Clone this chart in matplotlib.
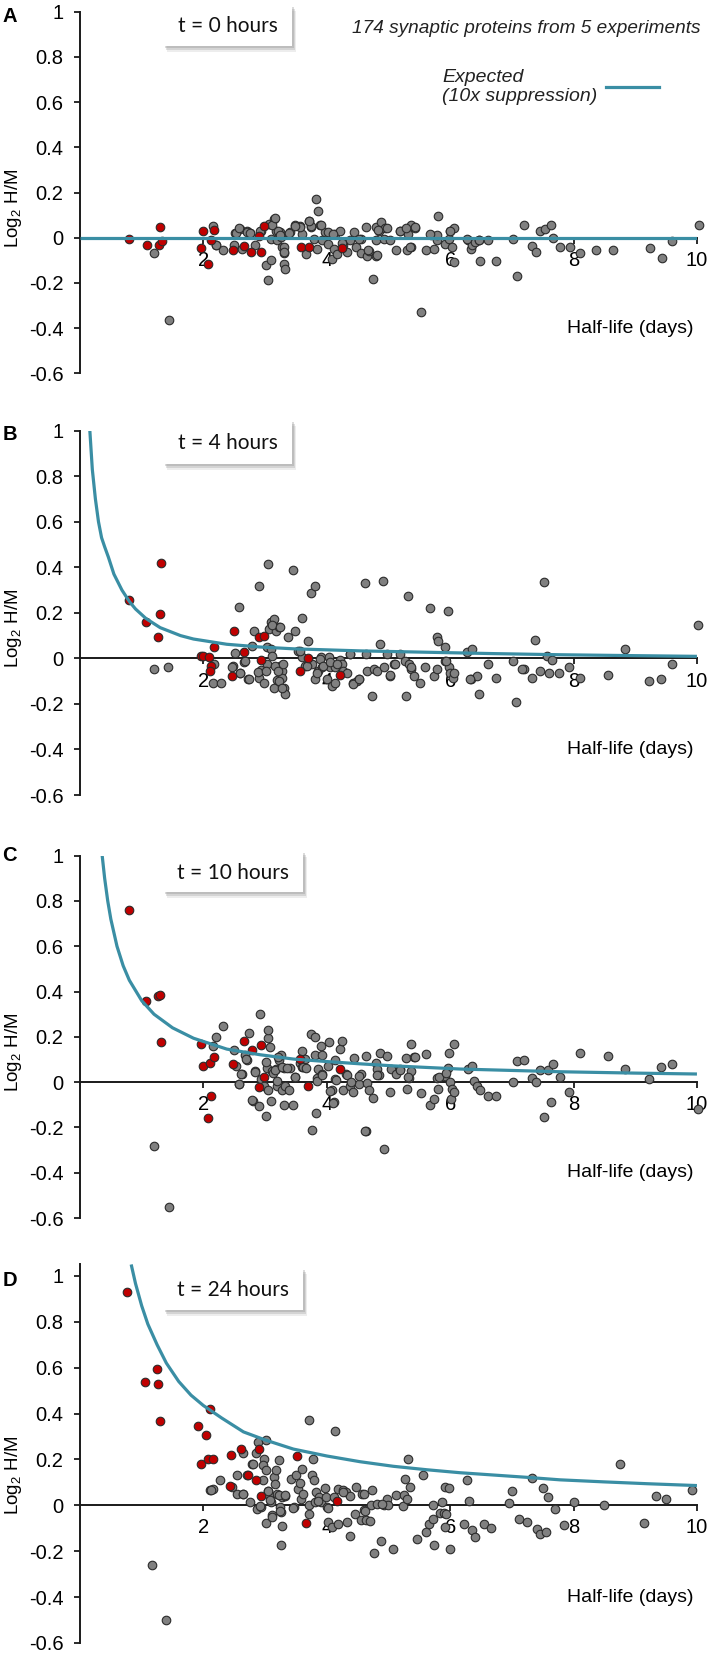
import matplotlib
matplotlib.use('Agg')
import matplotlib.pyplot as plt
from matplotlib.patches import Rectangle
from matplotlib.lines import Line2D
from matplotlib import transforms

plt.rcParams['font.family'] = ['Liberation Sans', 'DejaVu Sans']
plt.rcParams['mathtext.default'] = 'regular'

# ---- data: (half-life in days, log2 H/M) ----
a_grey = [(1.20, -0.068), (1.44, -0.363), (2.16, 0.05), (2.21, -0.031), (2.32, -0.056), (2.51, 0.022),
          (2.59, 0.04), (2.49, -0.034), (2.70, 0.028), (2.75, 0.022), (2.62, -0.049), (2.83, -0.034),
          (2.93, 0.032), (3.01, -0.122), (3.05, -0.186), (3.10, -0.1), (3.06, 0.062), (3.15, 0.084),
          (3.10, -0.004), (3.17, 0.032), (3.20, -0.012), (3.25, 0.025), (3.28, -0.041), (3.30, -0.066),
          (3.30, -0.115), (3.32, -0.137), (3.26, 0.003), (3.40, 0.025), (3.48, 0.055), (3.56, 0.05),
          (3.60, 0.018), (3.67, -0.071), (3.71, 0.072), (3.75, 0.047), (3.82, 0.173), (3.86, 0.117),
          (3.89, 0.058), (3.84, -0.049), (3.80, -0.004), (3.92, -0.012), (3.97, 0.025), (4.02, -0.027),
          (4.08, -0.093), (4.13, 0.018), (4.11, -0.049), (4.16, -0.071), (4.21, 0.028), (4.27, -0.034),
          (4.33, -0.063), (4.38, -0.012), (4.44, 0.025), (4.48, -0.041), (4.55, -0.004), (4.63, 0.047),
          (4.55, -0.066), (4.66, -0.081), (4.69, -0.059), (4.75, -0.181), (4.80, -0.083), (4.79, -0.012),
          (4.79, 0.047), (4.88, 0.069), (4.85, 0.032), (4.95, 0.043), (4.92, -0.004), (5.02, -0.009),
          (5.13, -0.053), (5.19, 0.032), (5.30, 0.04), (5.30, -0.053), (5.37, 0.055), (5.43, 0.043),
          (5.36, -0.041), (5.32, 0.018), (5.52, -0.329), (5.61, -0.053), (5.69, 0.013), (5.73, -0.049),
          (5.79, -0.012), (5.79, 0.01), (5.81, 0.094), (5.92, -0.027), (5.98, -0.007), (6.00, 0.032),
          (6.06, 0.043), (6.03, -0.041), (6.07, -0.108), (6.29, -0.009), (6.33, -0.049), (6.36, -0.031),
          (6.40, -0.019), (6.46, -0.012), (6.49, -0.105), (6.62, -0.012), (6.74, -0.105), (7.02, -0.007),
          (7.08, -0.17), (7.19, 0.058), (7.32, -0.038), (7.39, -0.063), (7.46, 0.028), (7.54, 0.04),
          (7.63, 0.055), (7.66, 0.0), (7.78, -0.041), (7.94, -0.041), (8.10, -0.068), (8.37, -0.056),
          (8.64, -0.056), (9.24, -0.046), (9.43, -0.09), (9.60, -0.016), (10.03, 0.058),
          (2.92, 0.032), (3.11, 0.055), (3.21, 0.032), (3.24, 0.01), (3.30, -0.041), (3.31, -0.063),
          (3.56, 0.047), (3.75, 0.05), (3.91, 0.058), (4.02, 0.025), (4.10, 0.018), (4.24, -0.024),
          (4.53, -0.005), (4.67, -0.056), (4.81, -0.078), (4.83, 0.035), (4.97, 0.043), (5.19, 0.032),
          (5.29, 0.043), (5.35, -0.041), (5.43, 0.047), (5.67, 0.018), (6.00, 0.032), (6.27, -0.004),
          (6.46, -0.012), (2.53, 0.02), (2.58, 0.041), (2.71, 0.026), (2.76, 0.023), (2.20, -0.03),
          (3.16, 0.087), (3.38, 0.022), (3.49, 0.054), (3.71, 0.073)]
a_red = [(0.79, -0.004), (1.08, -0.03), (1.30, 0.047), (1.28, -0.03), (1.33, -0.015), (1.99, 0.03),
         (1.96, -0.044), (2.18, 0.035), (2.13, -0.012), (2.07, -0.115), (2.48, -0.053), (2.66, -0.038),
         (2.78, -0.063), (2.93, -0.063), (2.90, 0.006), (2.99, 0.052), (3.58, -0.041), (3.72, -0.041),
         (4.24, -0.047)]

b_grey = [(1.20, -0.047), (1.43, -0.04), (2.15, -0.106), (2.29, -0.11), (2.18, -0.025), (2.48, -0.035),
          (2.57, 0.225), (2.52, 0.023), (2.60, -0.062), (2.66, -0.018), (2.73, -0.091), (2.79, 0.056),
          (2.82, 0.119), (2.90, 0.32), (2.90, -0.087), (2.93, -0.051), (2.99, -0.106), (3.03, 0.048),
          (3.03, -0.025), (3.05, 0.413), (3.06, 0.129), (3.09, 0.159), (3.10, 0.041), (3.12, 0.012),
          (3.14, 0.173), (3.17, 0.122), (3.19, -0.095), (3.14, -0.128), (3.23, 0.137), (3.25, -0.032),
          (3.28, -0.054), (3.28, -0.084), (3.31, -0.128), (3.32, -0.157), (3.23, -0.098), (3.37, 0.093),
          (3.45, 0.386), (3.48, 0.122), (3.54, 0.034), (3.60, 0.176), (3.60, 0.007), (3.65, -0.032),
          (3.69, 0.078), (3.75, 0.286), (3.81, 0.32), (3.76, -0.025), (3.81, -0.091), (3.86, -0.057),
          (3.91, 0.007), (3.93, -0.04), (4.00, -0.091), (4.04, 0.007), (4.05, -0.04), (4.09, -0.12),
          (4.13, -0.106), (4.14, -0.04), (4.21, -0.007), (4.24, -0.025), (4.27, -0.054), (4.33, -0.062),
          (4.37, 0.019), (4.42, -0.106), (4.49, -0.098), (4.53, -0.091), (4.62, 0.33), (4.64, 0.019),
          (4.66, -0.054), (4.73, -0.164), (4.77, -0.047), (4.82, -0.054), (4.86, 0.063), (4.91, 0.339),
          (4.93, -0.04), (4.98, 0.019), (5.02, -0.076), (5.09, -0.025), (5.19, 0.019), (5.26, -0.01),
          (5.29, -0.164), (5.32, 0.276), (5.34, -0.025), (5.37, -0.047), (5.41, -0.076), (5.51, -0.11),
          (5.59, -0.04), (5.67, 0.22), (5.73, -0.076), (5.78, -0.047), (5.78, 0.095), (5.81, 0.078),
          (5.92, 0.048), (5.96, 0.206), (5.92, -0.01), (5.98, -0.04), (6.00, -0.062), (6.05, -0.084),
          (6.07, -0.062), (6.28, 0.029), (6.36, 0.041), (6.33, -0.091), (6.44, -0.076), (6.47, -0.157),
          (6.61, -0.025), (6.74, -0.084), (7.02, -0.01), (7.06, -0.191), (7.19, -0.047), (7.32, -0.084),
          (7.38, 0.081), (7.46, -0.054), (7.52, 0.335), (7.57, 0.012), (7.61, -0.066), (7.65, -0.007),
          (7.77, -0.066), (7.93, -0.037), (8.10, -0.084), (8.56, -0.073), (8.83, 0.041), (9.22, -0.101),
          (9.42, -0.091), (9.60, -0.025), (10.01, 0.148),
          (2.47, -0.036), (2.59, -0.062), (2.74, -0.091), (2.67, -0.012), (2.89, -0.058), (3.02, -0.055),
          (3.12, 0.147), (3.25, 0.136), (3.16, -0.033), (3.21, -0.055), (3.29, -0.026), (3.27, -0.128),
          (3.57, 0.033), (3.68, -0.033), (3.84, -0.062), (3.89, -0.004), (3.94, -0.033), (4.05, -0.018),
          (4.16, -0.026), (4.37, 0.018), (4.43, -0.111), (4.53, -0.092), (5.03, -0.072), (5.10, -0.023),
          (5.36, -0.04), (5.93, -0.011), (6.32, -0.089), (7.17, -0.048)]
b_red = [(0.79, 0.257), (1.07, 0.161), (1.27, 0.095), (1.29, 0.195), (1.32, 0.418), (1.96, 0.012),
         (2.00, 0.012), (2.09, 0.007), (2.13, -0.032), (2.11, -0.057), (2.18, 0.048), (2.46, -0.076),
         (2.49, 0.119), (2.66, 0.026), (2.90, 0.095), (2.98, 0.1), (2.93, -0.007), (3.56, -0.054),
         (3.70, 0.0), (4.22, -0.073)]

c_grey = [(1.20, -0.282), (1.44, -0.551), (2.15, 0.159), (2.21, 0.2), (2.32, 0.247), (2.50, 0.144),
          (2.53, 0.07), (2.57, -0.01), (2.63, 0.034), (2.68, 0.122), (2.71, 0.1), (2.74, 0.217),
          (2.80, -0.081), (2.83, 0.048), (2.90, -0.106), (2.92, 0.301), (2.93, 0.012), (2.98, -0.018),
          (3.01, -0.15), (3.03, 0.063), (3.04, 0.195), (3.05, 0.229), (3.08, 0.156), (3.05, -0.035),
          (3.10, -0.084), (3.12, 0.048), (3.17, 0.059), (3.19, -0.018), (3.23, 0.1), (3.26, 0.122),
          (3.30, 0.063), (3.27, -0.035), (3.32, -0.018), (3.31, -0.101), (3.40, 0.063), (3.45, -0.103),
          (3.48, 0.023), (3.56, 0.085), (3.60, 0.137), (3.60, 0.068), (3.65, 0.103), (3.75, 0.213),
          (3.76, -0.209), (3.81, 0.2), (3.81, 0.122), (3.82, -0.138), (3.86, 0.059), (3.84, 0.019),
          (3.91, 0.159), (3.92, 0.122), (3.93, 0.034), (4.02, 0.073), (4.03, 0.178), (4.08, -0.035),
          (4.11, -0.088), (4.13, 0.097), (4.14, 0.012), (4.21, 0.147), (4.24, 0.181), (4.26, -0.035),
          (4.31, 0.034), (4.37, -0.018), (4.42, -0.044), (4.44, 0.107), (4.53, -0.007), (4.55, 0.034),
          (4.64, 0.115), (4.66, -0.003), (4.63, -0.216), (4.68, -0.035), (4.75, -0.069), (4.79, 0.085),
          (4.82, 0.056), (4.84, 0.031), (4.87, 0.129), (4.92, -0.297), (4.97, 0.117), (5.02, -0.044),
          (5.04, 0.056), (5.12, 0.034), (5.19, 0.056), (5.29, 0.107), (5.30, -0.029), (5.34, 0.019),
          (5.36, 0.048), (5.37, 0.169), (5.41, 0.11), (5.52, -0.047), (5.61, 0.125), (5.67, -0.101),
          (5.74, -0.073), (5.78, 0.019), (5.80, -0.032), (5.92, 0.026), (5.96, 0.063), (5.98, 0.129),
          (6.00, 0.0), (6.02, -0.076), (6.03, -0.032), (6.06, 0.17), (6.07, -0.044), (6.29, 0.059),
          (6.35, 0.07), (6.38, 0.007), (6.44, -0.015), (6.49, -0.035), (6.61, -0.059), (6.74, -0.059),
          (7.02, 0.0), (7.08, 0.093), (7.19, 0.097), (7.32, 0.019), (7.39, 0.0), (7.46, 0.053),
          (7.52, -0.154), (7.59, 0.053), (7.63, -0.088), (7.66, 0.078), (7.78, 0.022), (7.93, -0.044),
          (8.10, 0.129), (8.56, 0.115), (8.83, 0.059), (9.22, 0.015), (9.42, 0.068), (9.60, 0.078),
          (10.01, -0.12),
          (2.58, -0.009), (2.61, 0.037), (2.69, 0.102), (2.79, -0.077), (2.84, 0.045), (3.02, 0.091),
          (3.13, 0.04), (3.16, 0.055), (3.19, 0.006), (3.21, 0.113), (3.27, 0.069), (3.35, 0.062),
          (3.38, -0.034), (3.49, 0.021), (3.61, 0.069), (3.66, 0.062), (3.84, 0.003), (3.93, 0.032),
          (4.05, -0.037), (4.10, -0.09), (4.15, 0.011), (4.32, 0.032), (4.39, -0.001), (4.53, 0.028),
          (4.62, -0.214), (4.82, 0.03), (5.18, 0.055), (5.32, 0.025), (5.43, 0.109), (5.82, 0.025),
          (5.93, 0.04)]
c_red = [(0.79, 0.758), (1.07, 0.357), (1.27, 0.379), (1.30, 0.383), (1.32, 0.176), (1.96, 0.169),
         (2.00, 0.07), (2.11, 0.085), (2.18, 0.112), (2.13, -0.059), (2.07, -0.157), (2.48, 0.078),
         (2.66, 0.181), (2.79, 0.144), (2.93, 0.163), (2.98, 0.022), (2.90, -0.022), (3.56, 0.103),
         (3.70, -0.018), (4.22, 0.059)]

d_grey = [(1.17, -0.259), (1.40, -0.499), (2.11, 0.068), (2.16, 0.073), (2.27, 0.109), (2.46, 0.08),
          (2.54, 0.131), (2.55, 0.051), (2.65, 0.226), (2.64, 0.048), (2.71, 0.131), (2.76, 0.015),
          (2.79, 0.182), (2.86, 0.229), (2.87, -0.015), (2.88, 0.274), (2.93, -0.007), (2.97, 0.112),
          (2.99, 0.204), (2.97, 0.175), (3.01, 0.153), (3.01, 0.284), (3.01, -0.077), (3.04, 0.063),
          (3.06, 0.044), (3.09, 0.015), (3.12, -0.044), (3.15, 0.124), (3.17, 0.153), (3.20, 0.051),
          (3.23, 0.199), (3.25, -0.007), (3.26, -0.172), (3.26, -0.029), (3.28, 0.036), (3.28, -0.092),
          (3.32, 0.039), (3.42, 0.116), (3.47, -0.007), (3.50, 0.131), (3.54, 0.073), (3.58, 0.029),
          (3.60, 0.16), (3.71, 0.371), (3.71, 0.0), (3.71, -0.036), (3.76, 0.131), (3.78, 0.204),
          (3.80, 0.112), (3.81, 0.015), (3.83, 0.058), (3.87, 0.036), (3.91, 0.015), (3.97, 0.077),
          (3.98, 0.036), (4.00, -0.007), (4.02, -0.073), (4.09, -0.095), (4.11, 0.036), (4.14, 0.323),
          (4.19, 0.073), (4.19, -0.08), (4.26, 0.066), (4.31, 0.058), (4.33, -0.073), (4.37, 0.041),
          (4.38, -0.135), (4.46, -0.036), (4.48, 0.08), (4.55, -0.063), (4.57, 0.051), (4.60, -0.019),
          (4.64, -0.066), (4.70, -0.07), (4.73, 0.068), (4.72, 0.0), (4.77, -0.207), (4.82, 0.007),
          (4.88, -0.157), (4.92, 0.0), (4.97, 0.029), (4.99, 0.0), (5.07, -0.189), (5.12, 0.044),
          (5.23, -0.004), (5.25, 0.044), (5.26, 0.116), (5.30, 0.029), (5.32, 0.204), (5.35, 0.08),
          (5.46, -0.146), (5.56, 0.134), (5.61, -0.116), (5.65, -0.08), (5.72, 0.0), (5.72, -0.058),
          (5.74, -0.175), (5.83, -0.033), (5.87, 0.015), (5.90, -0.033), (5.92, 0.08), (5.92, -0.095),
          (5.94, -0.036), (5.98, 0.077), (6.00, -0.189), (6.22, -0.08), (6.28, 0.109), (6.30, 0.017),
          (6.36, -0.109), (6.41, -0.138), (6.55, -0.08), (6.67, -0.098), (6.96, 0.01), (7.00, 0.063),
          (7.11, -0.061), (7.24, -0.073), (7.32, 0.121), (7.40, -0.102), (7.45, -0.127), (7.50, 0.077),
          (7.55, -0.116), (7.59, 0.036), (7.70, -0.015), (7.85, -0.087), (8.01, 0.015), (8.49, 0.0),
          (8.75, 0.182), (9.14, -0.076), (9.33, 0.039), (9.50, 0.029), (9.92, 0.066),
          (2.13, 0.065), (2.64, 0.05), (2.80, 0.18), (2.91, -0.001), (3.05, 0.062), (3.08, 0.021),
          (3.12, -0.052), (3.16, 0.094), (3.23, 0.043), (3.25, -0.023), (3.33, 0.045), (3.45, -0.013),
          (3.56, 0.097), (3.62, 0.05), (3.86, 0.018), (4.02, -0.012), (4.26, 0.06), (4.60, 0.05),
          (4.62, -0.023), (4.89, 0.006)]
d_red = [(0.76, 0.932), (1.05, 0.539), (1.25, 0.594), (1.27, 0.528), (1.29, 0.368), (1.91, 0.346),
         (1.96, 0.178), (2.05, 0.306), (2.07, 0.201), (2.10, 0.418), (2.15, 0.201), (2.44, 0.218),
         (2.43, 0.083), (2.61, 0.247), (2.73, 0.131), (2.86, 0.109), (2.90, 0.247), (2.93, 0.041),
         (3.52, 0.215), (3.67, -0.076), (4.16, 0.019)]

# expected curves (10x suppression)
a_curve_x = [0.0, 10.0]
a_curve_y = [-0.003, -0.003]
b_curve_x = [0.16, 0.2, 0.25, 0.3, 0.35, 0.4, 0.46, 0.55, 0.68, 0.8, 0.9, 1.07, 1.3, 1.63, 1.84,
             2.38, 2.92, 3.46, 4.54, 5.62, 6.7, 7.78, 9.0, 10.0]
b_curve_y = [1.0, 0.83, 0.7, 0.6, 0.53, 0.49, 0.445, 0.37, 0.3, 0.25, 0.217, 0.175, 0.135, 0.1, 0.085,
             0.062, 0.05, 0.042, 0.033, 0.027, 0.021, 0.016, 0.012, 0.009]
c_curve_x = [0.36, 0.4, 0.45, 0.5, 0.6, 0.7, 0.8, 1.0, 1.2, 1.5, 1.84, 2.38, 2.92, 3.46, 4.0, 4.54,
             5.08, 5.62, 6.16, 6.7, 7.78, 9.0, 10.0]
c_curve_y = [1.0, 0.9, 0.8, 0.72, 0.6, 0.514, 0.45, 0.36, 0.30, 0.24, 0.194, 0.146, 0.121, 0.102,
             0.091, 0.081, 0.072, 0.065, 0.058, 0.054, 0.046, 0.04, 0.036]
d_curve_x = [0.83, 0.9, 1.0, 1.1, 1.25, 1.4, 1.6, 1.8, 2.0, 2.3, 2.65, 3.0, 3.46, 4.0, 4.54, 5.08,
             5.62, 6.16, 6.7, 7.24, 7.78, 8.5, 9.2, 10.0]
d_curve_y = [1.05, 0.967, 0.87, 0.79, 0.70, 0.62, 0.54, 0.48, 0.435, 0.38, 0.32, 0.285, 0.245, 0.215,
             0.19, 0.17, 0.155, 0.142, 0.132, 0.122, 0.111, 0.102, 0.094, 0.086]

panel_letters = ['A', 'B', 'C', 'D']
time_labels = ['t = 0 hours', 't = 4 hours', 't = 10 hours', 't = 24 hours']
y_ticks = [-0.6, -0.4, -0.2, 0, 0.2, 0.4, 0.6, 0.8, 1]
y_ticklabels = ['-0.6', '-0.4', '-0.2', '0', '0.2', '0.4', '0.6', '0.8', '1']
x_ticks = [2, 4, 6, 8, 10]
x_ticklabels = ['2', '4', '6', '8', '10']

TEAL = '#3a8ea4'
GREY = '#808080'
RED = '#c00000'
EDGE = '#2b2b2b'
INK = '#1a1a1a'

fig = plt.figure(figsize=(7.09, 16.57), dpi=100)

# layout: [left, bottom, width, height], top of y range, label box extents, letter height
layout = [
    ([0.1128, 0.7747, 0.8702, 0.2182], 1.0, (1.35, 3.44, 0.85, 1.03), 0.9899),
    ([0.1128, 0.5202, 0.8702, 0.2199], 1.0, (1.35, 3.44, 0.855, 1.045), 0.7375),
    ([0.1128, 0.2649, 0.8702, 0.2187], 1.0, (1.35, 3.62, 0.84, 1.02), 0.4840),
    ([0.1128, 0.0085, 0.8702, 0.2284], 1.05, (1.35, 3.62, 0.85, 1.035), 0.2275),
]
series = [(a_grey, a_red, a_curve_x, a_curve_y),
          (b_grey, b_red, b_curve_x, b_curve_y),
          (c_grey, c_red, c_curve_x, c_curve_y),
          (d_grey, d_red, d_curve_x, d_curve_y)]

axes = []
for i, ((rect, ytop, box, ly), (grey, red, cx, cy)) in enumerate(zip(layout, series)):
    ax = fig.add_axes(rect)
    axes.append(ax)
    gx, gy = zip(*grey)
    rx, ry = zip(*red)
    ax.scatter(gx, gy, s=38, c=GREY, edgecolors=EDGE, linewidths=0.8, zorder=3, clip_on=False)
    ax.scatter(rx, ry, s=38, c=RED, edgecolors=EDGE, linewidths=0.8, zorder=4, clip_on=False)
    ax.plot(cx, cy, color=TEAL, lw=2.3, zorder=5, solid_capstyle='butt')

    ax.set_xlim(0, 10)
    ax.set_ylim(-0.6, ytop)
    for s in ['top', 'right']:
        ax.spines[s].set_visible(False)
    ax.spines['bottom'].set_position(('data', 0))
    for s in ['left', 'bottom']:
        ax.spines[s].set_linewidth(1.4)
        ax.spines[s].set_color(INK)
        ax.spines[s].set_zorder(2)
    ax.set_yticks(y_ticks)
    ax.set_yticklabels(y_ticklabels)
    ax.set_xticks(x_ticks)
    ax.set_xticklabels(x_ticklabels)
    ax.tick_params(axis='y', direction='out', length=4, width=1.3, pad=8, labelsize=14.5, color=INK)
    ax.tick_params(axis='x', direction='out', length=4.5, width=1.3, pad=5, labelsize=14.5, color=INK)
    ax.patch.set_visible(False)

    ax.set_ylabel('Log$_2$ H/M', fontsize=13.5)
    ax.yaxis.label.set_va('center')
    ax.yaxis.set_label_coords(-0.108, (0.13 + 0.6) / (ytop + 0.6))
    ax.set_xlabel('Half-life (days)', fontsize=14)
    ax.xaxis.set_label_coords(0.994, (-0.40 + 0.6) / (ytop + 0.6))
    ax.xaxis.label.set_ha('right')
    ax.xaxis.label.set_va('center')

    # time label box with soft shadow
    x0, x1, y0, y1 = box
    for dx, dy, a in [(2, -2, 0.30), (3, -4, 0.25), (4, -6, 0.15)]:
        sh = transforms.offset_copy(ax.transData, fig=fig, x=dx, y=dy, units='dots')
        ax.add_patch(Rectangle((x0, y0), x1 - x0, y1 - y0, transform=sh, facecolor='#8a8a8a',
                               edgecolor='none', alpha=a, clip_on=False, zorder=6))
    ax.add_patch(Rectangle((x0, y0), x1 - x0, y1 - y0, facecolor='white', edgecolor='none',
                           clip_on=False, zorder=7))
    ax.text((x0 + x1) / 2, (y0 + y1) / 2 - 0.005, time_labels[i], ha='center', va='center',
            fontsize=15, family=['Lato', 'DejaVu Sans'], color='#111111', zorder=8)

    fig.text(0.003, ly, panel_letters[i], fontsize=14.5, fontweight='bold', ha='left', va='center')

ax = axes[0]
ax.text(10.05, 0.926, '174 synaptic proteins from 5 experiments', ha='right', va='center',
        fontsize=13.7, style='italic', color='#222222')
handle = Line2D([], [], color=TEAL, lw=2.3)
ax.legend([handle], ['Expected\n(10x suppression)'], loc='upper left', bbox_to_anchor=(0.587, 0.842),
          markerfirst=False, frameon=False, prop={'style': 'italic', 'size': 14},
          handlelength=2.7, handletextpad=0.45, borderpad=0, borderaxespad=0, labelcolor='#222222')

fig.savefig('out.png', dpi=100)
